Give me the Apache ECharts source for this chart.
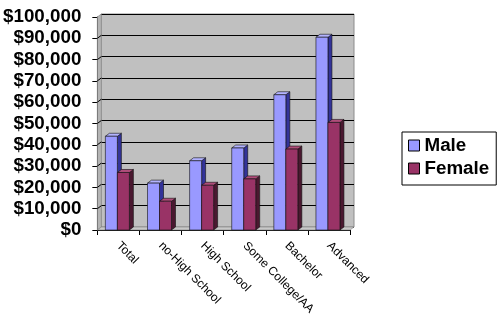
<!DOCTYPE html>
<html><head><meta charset="utf-8">
<script src="https://cdn.jsdelivr.net/npm/echarts@6/dist/echarts.min.js"></script>
<style>html,body{margin:0;padding:0;background:#fff}#c{width:500px;height:318px}</style>
</head><body><div id="c"></div>
<script>
const categories = ['Total','no-High School','High School','Some College/AA','Bachelor','Advanced'];
const male = [44000, 22000, 32500, 38500, 63500, 90500];
const female = [27000, 13500, 21000, 24000, 38000, 50500];
const yMin = 0, yMax = 100000, yStep = 10000;

const DX = 4, DY = -3;
const FONT = '"Liberation Sans", Arial, sans-serif';
function money(v){ return '$' + String(v).replace(/\B(?=(\d{3})+(?!\d))/g, ','); }

function bar3d(offset, front, side, top){
  return function(params, api){
    const i = api.value(0), v = api.value(1);
    const p = api.coord([i, v]);
    const b = api.coord([i, 0]);
    const bw = 12;
    const x0 = p[0] + offset, x1 = x0 + bw, y0 = p[1], y1 = b[1];
    return {type:'group', children:[
      {type:'polygon', shape:{points:[[x1,y1],[x1+DX,y1+DY],[x1+DX,y0+DY],[x1,y0]]}, style:{fill:side, stroke:'#111', lineWidth:0.6}},
      {type:'polygon', shape:{points:[[x0,y0],[x0+DX,y0+DY],[x1+DX,y0+DY],[x1,y0]]}, style:{fill:top, stroke:'#111', lineWidth:0.6}},
      {type:'rect', shape:{x:x0, y:y0, width:bw, height:y1-y0}, style:{fill:front, stroke:'#111', lineWidth:0.6}}
    ]};
  };
}

function frame(params, api){
  const cs = params.coordSys;
  const x = cs.x, y = cs.y, w = cs.width, h = cs.height;
  const children = [
    {type:'polygon', shape:{points:[[x,y],[x+DX,y+DY],[x+DX,y+h+DY],[x,y+h]]}, style:{fill:'#b4b4b4', stroke:'#808080', lineWidth:0.6}},
    {type:'polygon', shape:{points:[[x,y+h],[x+w,y+h],[x+w+DX,y+h+DY],[x+DX,y+h+DY]]}, style:{fill:'#c8c8c8', stroke:'#808080', lineWidth:0.6}}
  ];
  for (let v = yMin + yStep; v < yMax; v += yStep){
    const yy = api.coord([0, v])[1];
    children.push({type:'line', shape:{x1:x, y1:yy, x2:x+DX, y2:yy+DY}, style:{stroke:'#000', lineWidth:1}});
  }
  return {type:'group', children};
}

const chart = echarts.init(document.getElementById('c'), null, {renderer:'canvas'});
chart.setOption({
  animation:false,
  backgroundColor:'#fff',
  textStyle:{fontFamily:FONT},
  legend:{
    orient:'vertical', left:402, top:132,
    backgroundColor:'#fff', borderColor:'#000', borderWidth:1,
    padding:[4,7,7,6], itemGap:4, itemWidth:11, itemHeight:11,
    icon:'rect',
    textStyle:{fontFamily:FONT, fontWeight:'bold', fontSize:18.8, lineHeight:18, color:'#000'},
    data:[
      {name:'Male', itemStyle:{color:'#9999ff', borderColor:'#000', borderWidth:1}},
      {name:'Female', itemStyle:{color:'#993366', borderColor:'#000', borderWidth:1}}
    ]
  },
  grid:[
    {left:97, right:150, top:17, bottom:88},
    {left:101, right:146, top:14, bottom:91, show:true, backgroundColor:'#c0c0c0', borderColor:'#8c8c8c', borderWidth:1}
  ],
  xAxis:[
    {type:'category', gridIndex:0, data:categories,
     axisLine:{lineStyle:{color:'#000'}},
     axisTick:{show:true, length:5, lineStyle:{color:'#000'}},
     axisLabel:{interval:0, rotate:-45, fontSize:12, color:'#000', margin:14, fontFamily:FONT}},
    {type:'category', gridIndex:1, data:categories, show:false}
  ],
  yAxis:[
    {type:'value', gridIndex:0, min:yMin, max:yMax, interval:yStep,
     axisLine:{show:true, lineStyle:{color:'#000'}},
     axisTick:{show:true, length:5, lineStyle:{color:'#000'}},
     splitLine:{show:false},
     axisLabel:{formatter:money, fontSize:18.8, fontWeight:'bold', color:'#000', margin:16, fontFamily:FONT}},
    {type:'value', gridIndex:1, min:yMin, max:yMax, interval:yStep,
     axisLine:{show:false}, axisTick:{show:false}, axisLabel:{show:false},
     splitLine:{show:true, lineStyle:{color:'#000', width:1}}}
  ],
  series:[
    {type:'custom', name:'frame', xAxisIndex:0, yAxisIndex:0, z:1, silent:true,
     renderItem:frame, data:[[0,0]]},
    {type:'custom', name:'Male', xAxisIndex:0, yAxisIndex:0, z:2,
     itemStyle:{color:'#9999ff'},
     renderItem:bar3d(-13, '#9999ff', '#333399', '#b3b3ff'),
     data:male.map((v,i)=>[i,v])},
    {type:'custom', name:'Female', xAxisIndex:0, yAxisIndex:0, z:3,
     itemStyle:{color:'#993366'},
     renderItem:bar3d(-1, '#993366', '#4a1830', '#b04d7a'),
     data:female.map((v,i)=>[i,v])}
  ]
});
</script>
</body></html>
